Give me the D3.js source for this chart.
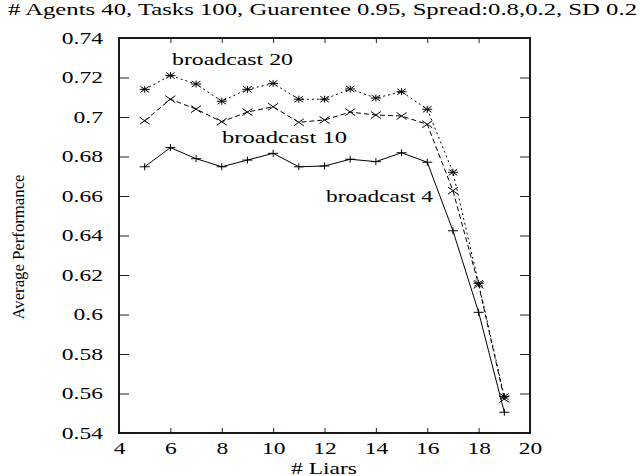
<!DOCTYPE html>
<html><head><meta charset="utf-8">
<script src="https://cdn.jsdelivr.net/npm/d3@7"></script>
<style>
html,body{margin:0;padding:0;background:#fff;}
text{font-family:"Liberation Serif","Times New Roman",Times,serif;fill:#000;}
</style></head>
<body><svg id="chart" width="641" height="476"></svg>
<script>
const liars = [5,6,7,8,9,10,11,12,13,14,15,16,17,18,19];
const broadcast4  = [0.6748,0.6845,0.6789,0.6748,0.6782,0.6816,0.6748,0.6752,0.6786,0.6774,0.6819,0.6771,0.6424,0.6011,0.5505];
const broadcast10 = [0.6981,0.7090,0.7040,0.6976,0.7025,0.7052,0.6973,0.6985,0.7025,0.7010,0.7005,0.6963,0.6627,0.6150,0.5572];
const broadcast20 = [0.7140,0.7210,0.7167,0.7080,0.7140,0.7170,0.7090,0.7090,0.7142,0.7096,0.7128,0.7039,0.6720,0.6158,0.5584];
const seriesNames = ["broadcast 4","broadcast 10","broadcast 20"];
const xTicks = [4,6,8,10,12,14,16,18,20];
const yTicks = [0.54,0.56,0.58,0.6,0.62,0.64,0.66,0.68,0.7,0.72,0.74];
const yTickLabels = ["0.54","0.56","0.58","0.6","0.62","0.64","0.66","0.68","0.7","0.72","0.74"];
const titleText = "# Agents 40, Tasks 100, Guarentee 0.95, Spread:0.8,0.2, SD 0.2";
const xLabel = "# Liars";
const yLabel = "Average Performance";

const svg = d3.select("#chart");
const L = 119, R = 530, T = 38, B = 433;
const x = d3.scaleLinear().domain([4,20]).range([L,R]);
const y = d3.scaleLinear().domain([0.54,0.74]).range([B,T]);
const SX = 1.47;
function stretch(sel){ sel.each(function(){ const w=this.getComputedTextLength(); d3.select(this).attr("textLength", w*SX).attr("lengthAdjust","spacingAndGlyphs"); }); }

// axes with inward ticks (mirror)
const gx = svg.append("g").attr("transform",`translate(0,${B})`)
  .call(d3.axisBottom(x).tickValues(xTicks).tickFormat(d3.format("d")).tickSize(-5).tickPadding(10));
const gxt = svg.append("g").attr("transform",`translate(0,${T})`)
  .call(d3.axisTop(x).tickValues(xTicks).tickFormat("").tickSize(-5));
const gy = svg.append("g").attr("transform",`translate(${L},0)`)
  .call(d3.axisLeft(y).tickValues(yTicks).tickFormat((d,i)=>yTickLabels[i]).tickSize(-10).tickPadding(16));
const gyr = svg.append("g").attr("transform",`translate(${R},0)`)
  .call(d3.axisRight(y).tickValues(yTicks).tickFormat("").tickSize(-10));
[gx,gxt,gy,gyr].forEach(g=>{ g.select(".domain").remove(); g.selectAll(".tick line").attr("stroke","#222").attr("stroke-width",1); });
gy.selectAll(".tick text").attr("font-size",16);
gx.selectAll(".tick text").attr("font-size",16);
gx.selectAll(".tick").filter(d=>d===4||d===20).select("line").remove();
gxt.selectAll(".tick").filter(d=>d===4||d===20).select("line").remove();
gy.selectAll(".tick").filter(d=>d===0.54||d===0.74).select("line").remove();
gyr.selectAll(".tick").filter(d=>d===0.54||d===0.74).select("line").remove();
stretch(gy.selectAll(".tick text"));
stretch(gx.selectAll(".tick text"));

svg.append("rect").attr("x",L).attr("y",T).attr("width",R-L).attr("height",B-T)
  .attr("fill","none").attr("stroke","#000").attr("stroke-width",1.8);

const data = [broadcast4, broadcast10, broadcast20];
const dashes = [null, "5,3", "2,3"];
const line = d3.line().x((d,i)=>x(liars[i])).y(d=>y(d));
data.forEach((vals,k)=>{
  svg.append("path").datum(vals).attr("d",line).attr("fill","none")
    .attr("stroke","#000").attr("stroke-width",1).attr("stroke-dasharray",dashes[k]);
  const g = svg.append("g");
  vals.forEach((v,i)=>{
    const cx = x(liars[i]), cy = y(v), hx=5, hy=3.5;
    let p = "";
    if(k===0||k===2) p += `M${cx-hx},${cy}H${cx+hx}M${cx},${cy-hy}V${cy+hy}`;
    if(k===2) p += `M${cx-hx*0.85},${cy-hy*0.85}L${cx+hx*0.85},${cy+hy*0.85}M${cx-hx*0.85},${cy+hy*0.85}L${cx+hx*0.85},${cy-hy*0.85}`;
    if(k===1) p = `M${cx-hx},${cy-hy}L${cx+hx},${cy+hy}M${cx-hx},${cy+hy}L${cx+hx},${cy-hy}`;
    g.append("path").attr("d",p).attr("stroke","#000").attr("stroke-width",1).attr("fill","none");
  });
});

// series labels
const labelPos = [[326,201.5,107],[222,143,125],[172,65,121]];
seriesNames.forEach((n,k)=>{
  svg.append("text").attr("x",labelPos[k][0]).attr("y",labelPos[k][1]).attr("font-size",16)
    .attr("textLength",labelPos[k][2]).attr("lengthAdjust","spacingAndGlyphs").text(n);
});

svg.append("text").attr("x",8).attr("y",15).attr("font-size",16)
  .attr("textLength",629).attr("lengthAdjust","spacingAndGlyphs").text(titleText);
const xl = svg.append("text").attr("x",324).attr("y",474).attr("font-size",16).attr("text-anchor","middle").text(xLabel);
stretch(xl);
svg.append("text").attr("transform","translate(24,247) rotate(-90)").attr("font-size",16)
  .attr("text-anchor","middle").attr("textLength",145).attr("lengthAdjust","spacingAndGlyphs").text(yLabel);
</script></body></html>
